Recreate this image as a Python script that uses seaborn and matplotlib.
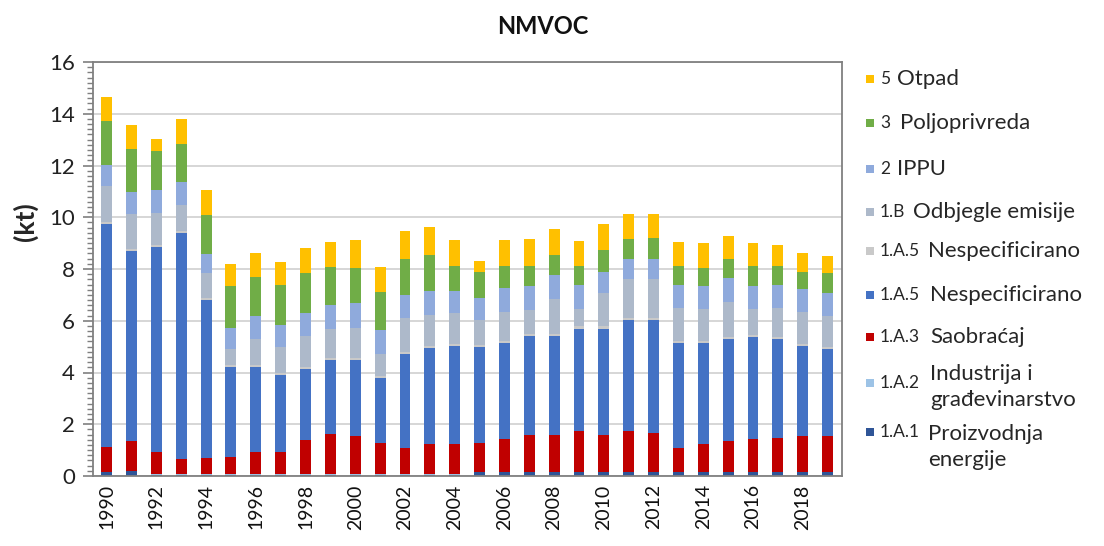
import pandas as pd
import seaborn as sns
import numpy as np
import matplotlib.pyplot as plt
import matplotlib.ticker as ticker
from matplotlib.patches import Rectangle

# NMVOC emissions by sector (kt)
years = list(range(1990, 2020))

otpad = [0.90, 0.94, 0.45, 0.95, 0.94, 0.86, 0.92, 0.90, 0.97, 1.00,
         1.09, 0.94, 1.07, 1.06, 1.00, 0.43, 1.00, 1.04, 0.99, 0.97,
         0.98, 0.94, 0.92, 0.93, 0.97, 0.90, 0.88, 0.81, 0.72, 0.69]
poljoprivreda = [1.72, 1.65, 1.53, 1.48, 1.52, 1.60, 1.51, 1.54, 1.54, 1.45,
                 1.37, 1.49, 1.39, 1.40, 0.97, 1.00, 0.87, 0.80, 0.79, 0.75,
                 0.84, 0.78, 0.80, 0.75, 0.71, 0.74, 0.80, 0.75, 0.68, 0.76]
ippu = [0.81, 0.87, 0.87, 0.88, 0.75, 0.81, 0.88, 0.86, 0.88, 0.91,
        0.94, 0.93, 0.88, 0.95, 0.87, 0.84, 0.92, 0.92, 0.94, 0.93,
        0.83, 0.78, 0.78, 0.87, 0.88, 0.92, 0.88, 0.87, 0.88, 0.88]
odbjegle = [1.40, 1.34, 1.25, 1.01, 0.95, 0.63, 1.02, 0.98, 1.19, 1.15,
            1.18, 0.85, 1.34, 1.17, 1.19, 0.97, 1.11, 0.92, 1.34, 0.67,
            1.29, 1.51, 1.51, 1.28, 1.22, 1.34, 1.00, 1.12, 1.24, 1.19]
nespec_siva = [0.08, 0.08, 0.08, 0.08, 0.08, 0.08, 0.08, 0.08, 0.08, 0.08,
               0.08, 0.08, 0.08, 0.08, 0.08, 0.08, 0.08, 0.08, 0.08, 0.08,
               0.08, 0.08, 0.08, 0.08, 0.08, 0.08, 0.08, 0.08, 0.08, 0.08]
nespec = [8.58, 7.33, 7.93, 8.75, 6.11, 3.46, 3.30, 3.01, 2.74, 2.84,
          2.94, 2.48, 3.63, 3.73, 3.79, 3.69, 3.73, 3.84, 3.84, 3.95,
          4.13, 4.27, 4.34, 4.08, 3.91, 3.95, 3.95, 3.85, 3.49, 3.39]
saobracaj = [0.98, 1.15, 0.85, 0.59, 0.63, 0.69, 0.85, 0.85, 1.34, 1.57,
             1.47, 1.23, 1.01, 1.17, 1.17, 1.12, 1.25, 1.40, 1.40, 1.58,
             1.40, 1.58, 1.51, 0.90, 1.07, 1.19, 1.25, 1.29, 1.36, 1.36]
industrija = [0.02, 0.02, 0.02, 0.02, 0.02, 0.02, 0.02, 0.02, 0.02, 0.02,
              0.02, 0.02, 0.02, 0.02, 0.02, 0.02, 0.02, 0.02, 0.02, 0.02,
              0.02, 0.02, 0.02, 0.02, 0.02, 0.02, 0.02, 0.02, 0.02, 0.02]
energija = [0.14, 0.19, 0.04, 0.04, 0.04, 0.04, 0.04, 0.04, 0.04, 0.04,
            0.04, 0.04, 0.04, 0.04, 0.04, 0.15, 0.15, 0.15, 0.15, 0.15,
            0.15, 0.15, 0.15, 0.15, 0.15, 0.15, 0.15, 0.15, 0.15, 0.15]

# top of the stack first (seaborn stacks the first hue level on top)
sectors = ['5', '3', '2', '1.B', '1.A.5a', '1.A.5', '1.A.3', '1.A.2', '1.A.1']
codes = ['5', '3', '2', '1.B', '1.A.5', '1.A.5', '1.A.3', '1.A.2', '1.A.1']
names = ['Otpad', 'Poljoprivreda', 'IPPU', 'Odbjegle emisije', 'Nespecificirano',
         'Nespecificirano', 'Saobraćaj', 'Industrija i\ngrađevinarstvo',
         'Proizvodnja\nenergije']
colors = ['#FFC000', '#70AD47', '#8FAADC', '#ADB9CA', '#C9C9C9',
          '#4472C4', '#C00000', '#9DC3E6', '#2F5597']
series = [otpad, poljoprivreda, ippu, odbjegle, nespec_siva,
          nespec, saobracaj, industrija, energija]

df = pd.concat([pd.DataFrame({'year': years, 'sector': s, 'kt': v})
                for s, v in zip(sectors, series)], ignore_index=True)

sns.set_theme(style="white")
plt.rcParams['font.family'] = ['Lato', 'DejaVu Sans']

W, H = 1104, 546
fig = plt.figure(figsize=(W / 100, H / 100), dpi=100)
ax = fig.add_axes([93 / W, 1 - 476 / H, 749 / W, 414 / H])

palette = dict(zip(sectors, colors))
sns.histplot(data=df, x='year', weights='kt', hue='sector', hue_order=sectors,
             multiple='stack', discrete=True, shrink=0.44, palette=palette,
             alpha=1, linewidth=0, legend=False, ax=ax)

ax.set_xlim(1990 - 0.55, 2019 + 0.58)
ax.set_ylim(0, 16)
ax.yaxis.set_major_locator(ticker.MultipleLocator(2))
ax.yaxis.set_minor_locator(ticker.MultipleLocator(0.2))
ax.set_xticks(years[::2])
ax.set_xticklabels([str(y) for y in years[::2]], rotation=90, fontsize=14, color='#111111')
ax.tick_params(axis='y', which='major', labelsize=16, labelcolor='#222222',
               left=True, length=7, width=1.2, color='#7F7F7F', pad=6)
ax.tick_params(axis='y', which='minor', left=True, length=4, width=1.0, color='#7F7F7F')
ax.tick_params(axis='x', length=0, pad=6)
ax.grid(axis='y', which='major', color='#D0D0D0', linewidth=1.2)
ax.set_axisbelow(True)
for side in ['left', 'bottom', 'top', 'right']:
    ax.spines[side].set_visible(True)
    ax.spines[side].set_color('#808080')
    ax.spines[side].set_linewidth(1.3)
ax.set_xlabel('')
ax.set_ylabel('')

fig.text(543 / W, 1 - 26 / H, 'NMVOC', ha='center', va='center',
         fontsize=17, fontweight='bold', color='#111111')
fig.text(25 / W, 1 - 222 / H, '(kt)', rotation=90, ha='center', va='center',
         fontsize=19, fontweight='bold', color='#262626')

# legend drawn by hand: small code next to the marker, larger sector name
marker_y = [79, 123, 169, 212, 251, 295, 337, 383, 432]
name_y = [79, 123, 169, 212, 251, 295, 337, 387, 447]
name_x = [897, 900, 897, 913, 928, 930, 930, 930, 928]
for c, code, name, my, ny, nx in zip(colors, codes, names, marker_y, name_y, name_x):
    fig.add_artist(Rectangle((866 / W, 1 - (my + 4) / H), 8 / W, 8 / H,
                             transform=fig.transFigure, facecolor=c, edgecolor='none'))
    fig.text(880 / W, 1 - my / H, code, ha='left', va='center',
             fontsize=12.5, color='#262626')
    fig.text(nx / W, 1 - ny / H, name, ha='left', va='center',
             fontsize=16, color='#262626', linespacing=1.35)

plt.savefig('out.png', dpi=100)
